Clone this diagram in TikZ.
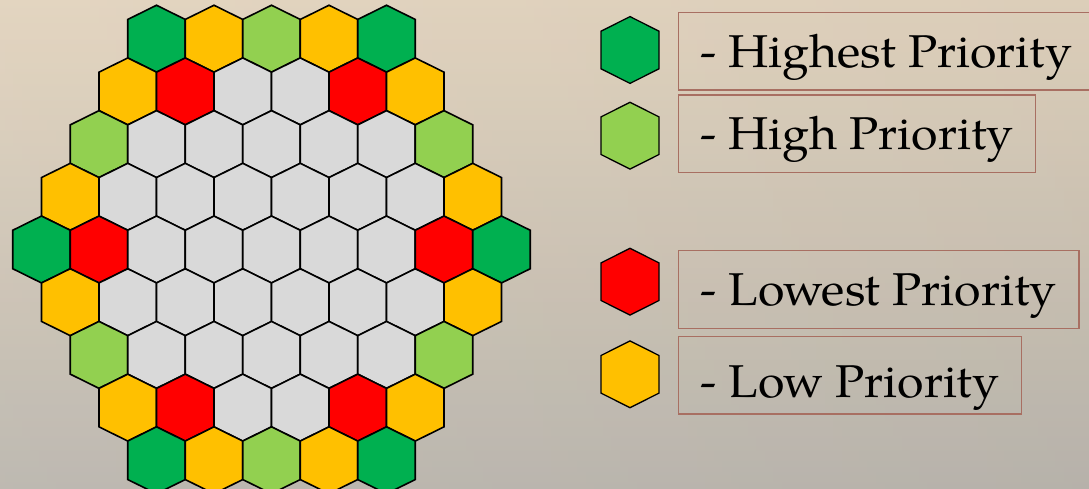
\documentclass[tikz,border=0pt]{standalone}
\usepackage{fontspec}
\setmainfont[FakeStretch=1.05]{TeX Gyre Pagella}
\usepackage{tikz}
\usetikzlibrary{positioning}
\definecolor{hG}{HTML}{00B050}
\definecolor{hY}{HTML}{FFC000}
\definecolor{hL}{HTML}{92D050}
\definecolor{hR}{HTML}{FF0000}
\definecolor{hE}{HTML}{D9D9D9}
\definecolor{frame}{HTML}{A86F62}
\definecolor{bgtop}{HTML}{F1E1C9}
\definecolor{bgmid}{HTML}{E2D6C4}
\definecolor{bgbot}{HTML}{C6C1B8}

\begin{document}
\begin{tikzpicture}[
  x=1pt, y=-1pt,
  cell/.style={draw=black, line width=1.6pt, line join=miter},
  keyhex/.style={draw=black, line width=1.3pt, line join=miter},
  legbox/.style={draw=frame, line width=1.4pt, anchor=north west,
                 inner xsep=22pt, inner ysep=0pt, text height=54.7pt,
                 text depth=23pt, font=\fontsize{46}{50}\selectfont}
]
  \useasboundingbox (0,0) rectangle (1089,489);

  % Background
  \fill[top color=bgtop, middle color=bgmid, bottom color=bgbot]
    (0,0) rectangle (1089,489);
  \fill[left color=white, right color=black!50, opacity=0.06]
    (0,0) rectangle (1089,489);

  % Board: 9 rows, 5 to 9 cells
  \foreach \r/\row in {0/{hG,hY,hL,hY,hG},
                       1/{hY,hR,hE,hE,hR,hY},
                       2/{hL,hE,hE,hE,hE,hE,hL},
                       3/{hY,hE,hE,hE,hE,hE,hE,hY},
                       4/{hG,hR,hE,hE,hE,hE,hE,hR,hG},
                       5/{hY,hE,hE,hE,hE,hE,hE,hY},
                       6/{hL,hE,hE,hE,hE,hE,hL},
                       7/{hY,hR,hE,hE,hR,hY},
                       8/{hG,hY,hL,hY,hG}} {
    \pgfmathsetmacro\n{9-abs(\r-4)}
    \foreach \c [count=\k from 0] in \row {
      \pgfmathsetmacro\cx{271.5+(\k-(\n-1)/2)*57.5}
      \pgfmathsetmacro\cy{249.5+(\r-4)*52.7}
      \filldraw[cell, fill=\c] (\cx,\cy-33.45) -- ++(28.75,14.2) -- ++(0,38.5)
        -- ++(-28.75,14.2) -- ++(-28.75,-14.2) -- ++(0,-38.5) -- cycle;
    }
  }

  % Key hexes
  \foreach \y/\c in {50/hG, 135.7/hL, 281.7/hR, 374.3/hY}
    \filldraw[keyhex, fill=\c] (630,\y-33.4) -- ++(29,14.6) -- ++(0,37.6)
      -- ++(-29,14.6) -- ++(-29,-14.6) -- ++(0,-37.6) -- cycle;

  % Key labels
  \node[legbox, minimum width=409.3pt] (highest) at (677.7,11.7) {- Highest Priority};
  \node[legbox, minimum width=355pt] (high) at (677.7,94.3) {- High Priority};
  \node[legbox, minimum width=400.6pt] (lowest) at (677.7,250) {- Lowest Priority};
  \node[legbox, minimum width=341.6pt, text height=60.7pt, text depth=16.6pt]
    (low) at (677.7,336) {- Low Priority};
\end{tikzpicture}
\end{document}
